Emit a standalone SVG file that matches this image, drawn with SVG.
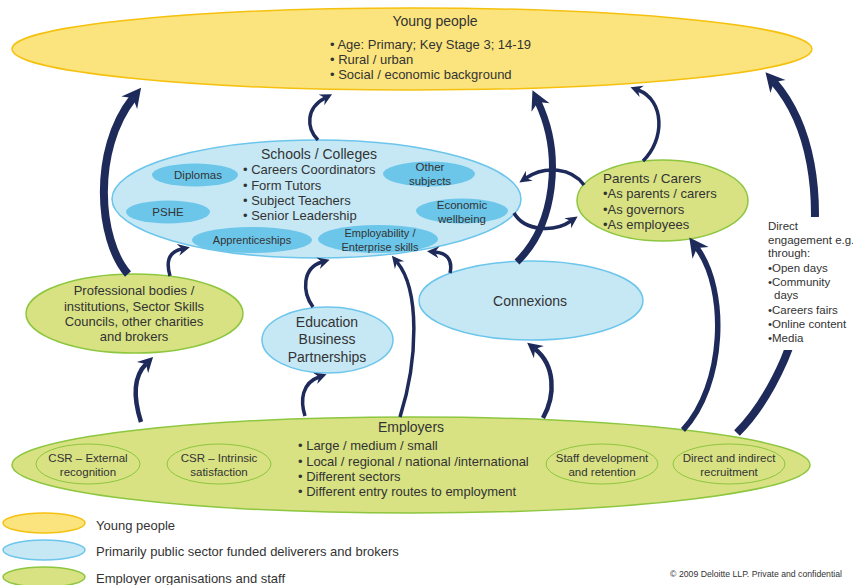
<svg xmlns="http://www.w3.org/2000/svg" width="853" height="585" viewBox="0 0 853 585">
<defs>
<style>
text{font-family:"Liberation Sans",Arial,sans-serif;fill:#333;}
.yel{fill:#FBE47D;stroke:#F5C10E;stroke-width:1.5;}
.blu{fill:#C6E8F5;stroke:#6CC5EB;stroke-width:1.5;}
.inb{fill:#6BC6EA;}
.grn{fill:#D8E283;stroke:#8DC63F;stroke-width:1.5;}
.ing{fill:#D8E283;stroke:#8DC63F;stroke-width:1;}
.c{text-anchor:middle;}
.a{fill:none;stroke:#1E2A5A;stroke-linecap:butt;}
.aL{stroke-width:7;marker-end:url(#hL);}
.aM{stroke-width:4.5;marker-end:url(#hM);}
.aS{stroke-width:3.5;marker-end:url(#hS);}
</style>
<marker id="hL" markerUnits="userSpaceOnUse" viewBox="-4 -12 24 24" refX="3" refY="0" markerWidth="24" markerHeight="24" orient="auto" overflow="visible">
<path d="M-3,-10 L16,0 L-3,10 L3,0 Z" fill="#1E2A5A"/>
</marker>
<marker id="hM" markerUnits="userSpaceOnUse" viewBox="-4 -10 22 20" refX="3" refY="0" markerWidth="22" markerHeight="20" orient="auto" overflow="visible">
<path d="M-2,-8 L13,0 L-2,8 L3,0 Z" fill="#1E2A5A"/>
</marker>
<marker id="hS" markerUnits="userSpaceOnUse" viewBox="-4 -8 18 16" refX="2" refY="0" markerWidth="18" markerHeight="16" orient="auto" overflow="visible">
<path d="M-2,-6 L10,0 L-2,6 L2,0 Z" fill="#1E2A5A"/>
</marker>
</defs>
<rect width="853" height="585" fill="#fff"/>

<g id="young-people">
<ellipse class="yel" cx="412" cy="49" rx="400" ry="41"/>
<text class="c" x="435" y="26" font-size="14">Young people</text>
<text x="330" y="49" font-size="13">• Age: Primary; Key Stage 3; 14-19</text>
<text x="330" y="64" font-size="13">• Rural / urban</text>
<text x="330" y="79" font-size="13">• Social / economic background</text>
</g>

<g id="schools">
<ellipse class="blu" cx="316.5" cy="199" rx="204.5" ry="59"/>
<ellipse class="inb" cx="195" cy="175" rx="43" ry="11.5"/>
<ellipse class="inb" cx="429" cy="174" rx="46" ry="12.5"/>
<ellipse class="inb" cx="168" cy="212" rx="42" ry="11.5"/>
<ellipse class="inb" cx="462" cy="211" rx="46" ry="12.5"/>
<ellipse class="inb" cx="252" cy="240" rx="60" ry="13"/>
<ellipse class="inb" cx="378" cy="239" rx="60" ry="14"/>
<text class="c" x="319" y="159" font-size="14">Schools / Colleges</text>
<text x="243" y="174" font-size="13">• Careers Coordinators</text>
<text x="243" y="190" font-size="13">• Form Tutors</text>
<text x="243" y="205" font-size="13">• Subject Teachers</text>
<text x="243" y="220" font-size="13">• Senior Leadership</text>
<text class="c" x="198" y="179" font-size="11.5">Diplomas</text>
<text class="c" x="430" y="171" font-size="11.5">Other</text>
<text class="c" x="430" y="185" font-size="11.5">subjects</text>
<text class="c" x="168" y="216" font-size="11.5">PSHE</text>
<text class="c" x="462" y="209" font-size="11.5">Economic</text>
<text class="c" x="462" y="223" font-size="11.5">wellbeing</text>
<text class="c" x="252" y="244" font-size="11">Apprenticeships</text>
<text class="c" x="380" y="237" font-size="11">Employability /</text>
<text class="c" x="380" y="251" font-size="11">Enterprise skills</text>
</g>

<g id="parents">
<ellipse class="grn" cx="662.5" cy="200.5" rx="85.5" ry="40.5"/>
<text x="603" y="183" font-size="13.5">Parents / Carers</text>
<text x="603" y="198" font-size="13">•As parents / carers</text>
<text x="603" y="214" font-size="13">•As governors</text>
<text x="603" y="229" font-size="13">•As employees</text>
</g>

<g id="professional-bodies">
<ellipse class="grn" cx="134.5" cy="313.5" rx="108.5" ry="39.5"/>
<text class="c" x="134" y="295" font-size="13">Professional bodies /</text>
<text class="c" x="134" y="311" font-size="13">institutions, Sector Skills</text>
<text class="c" x="134" y="326" font-size="13">Councils, other charities</text>
<text class="c" x="134" y="341" font-size="13">and brokers</text>
</g>

<g id="ebp">
<ellipse class="blu" cx="327.5" cy="340" rx="65.5" ry="33"/>
<text class="c" x="327" y="327" font-size="14">Education</text>
<text class="c" x="327" y="344" font-size="14">Business</text>
<text class="c" x="327" y="362" font-size="14">Partnerships</text>
</g>

<g id="connexions">
<ellipse class="blu" cx="531" cy="300.5" rx="112" ry="39.5"/>
<text class="c" x="530" y="306" font-size="14">Connexions</text>
</g>

<g id="employers">
<ellipse class="grn" cx="411" cy="465" rx="399" ry="48"/>
<ellipse class="ing" cx="88" cy="464" rx="52" ry="20"/>
<ellipse class="ing" cx="219" cy="464" rx="52" ry="20"/>
<ellipse class="ing" cx="602" cy="464" rx="56" ry="20"/>
<ellipse class="ing" cx="729" cy="464" rx="56" ry="20"/>
<text class="c" x="411" y="432" font-size="14">Employers</text>
<text x="298" y="450" font-size="13">• Large / medium / small</text>
<text x="298" y="466" font-size="13">• Local / regional / national /international</text>
<text x="298" y="481" font-size="13">• Different sectors</text>
<text x="298" y="496" font-size="13">• Different entry routes to employment</text>
<text class="c" x="88" y="462" font-size="11.5">CSR – External</text>
<text class="c" x="88" y="476" font-size="11.5">recognition</text>
<text class="c" x="219" y="462" font-size="11.5">CSR – Intrinsic</text>
<text class="c" x="219" y="476" font-size="11.5">satisfaction</text>
<text class="c" x="602" y="462" font-size="11.5">Staff development</text>
<text class="c" x="602" y="476" font-size="11.5">and retention</text>
<text class="c" x="729" y="462" font-size="11.5">Direct and indirect</text>
<text class="c" x="729" y="476" font-size="11.5">recruitment</text>
</g>

<g id="connectors">
<path class="a aL" style="stroke-width:8" d="M128,274 C98,240 92,150 133,98"/>
<path class="a aM" d="M141,422 C134,400 132,378 146,364"/>
<path class="a aS" d="M170,276 C166,262 168,252 182,249"/>
<path class="a aS" d="M318,140 C306,128 306,108 325,98"/>
<path class="a aS" d="M313,307 C302,292 302,268 322,262"/>
<path class="a aS" d="M305,416 C300,400 302,383 319,377"/>
<path class="a aS" d="M400,417 C418,360 420,290 397,262"/>
<path class="a aS" d="M450,273 C453,260 447,253 435,252"/>
<path class="a aM" d="M543,418 C556,395 555,365 535,349"/>
<path class="a aL" d="M517,262 C555,225 563,155 538,102"/>
<path class="a aS" d="M584,185 C572,168 545,165 526,178"/>
<path class="a aS" d="M514,213 C525,232 555,232 571,221"/>
<path class="a aS" d="M643,161 C665,140 665,100 638,90"/>
<path class="a aL" style="stroke-width:5.5" d="M683,430 C725,385 728,290 697,248"/>
<path class="a aL" style="stroke-width:8" d="M737,433 C810,360 850,170 774,82"/>
</g>

<g id="direct-engagement">
<rect x="766" y="217" width="87" height="133" fill="#fff"/>
<text x="768" y="230" font-size="11.5">Direct</text>
<text x="768" y="244" font-size="11.5">engagement e.g.</text>
<text x="768" y="257" font-size="11.5">through:</text>
<text x="768" y="272" font-size="11.5">•Open days</text>
<text x="768" y="286" font-size="11.5">•Community</text>
<text x="774" y="299" font-size="11.5">days</text>
<text x="768" y="314" font-size="11.5">•Careers fairs</text>
<text x="768" y="328" font-size="11.5">•Online content</text>
<text x="768" y="342" font-size="11.5">•Media</text>
</g>

<g id="legend">
<ellipse class="yel" cx="44" cy="523" rx="41" ry="10"/>
<ellipse class="blu" cx="44" cy="550" rx="41" ry="10"/>
<ellipse class="grn" cx="44" cy="577" rx="41" ry="10"/>
<text x="96" y="530" font-size="13">Young people</text>
<text x="96" y="556" font-size="13">Primarily public sector funded deliverers and brokers</text>
<text x="96" y="583" font-size="13">Employer organisations and staff</text>
</g>
<text x="842" y="577" font-size="8.7" text-anchor="end">© 2009 Deloitte LLP. Private and confidential</text>
</svg>
